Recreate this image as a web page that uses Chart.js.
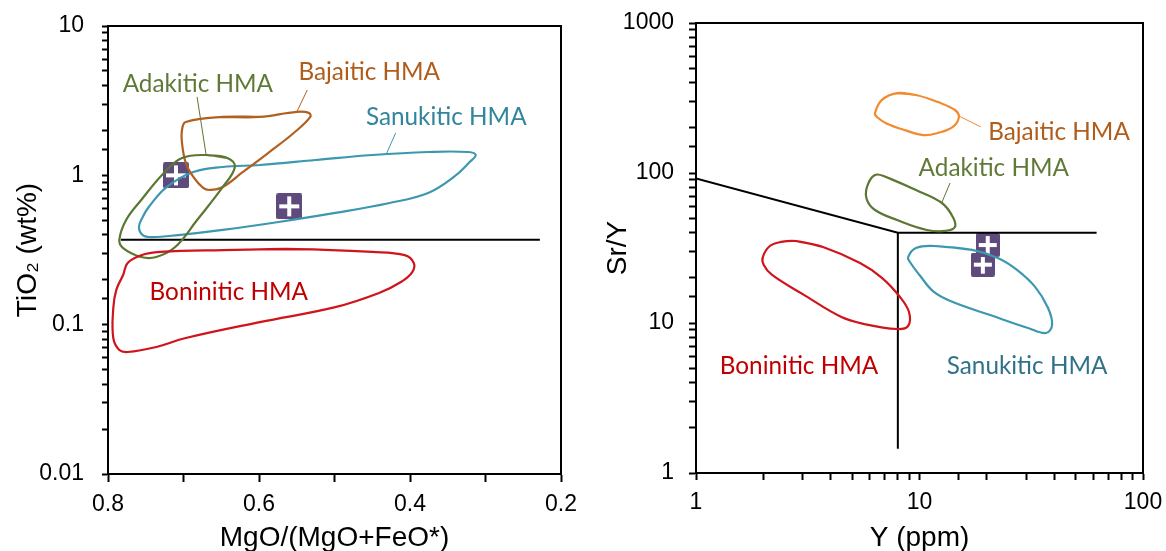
<!DOCTYPE html>
<html>
<head>
<meta charset="utf-8">
<script src="https://cdn.jsdelivr.net/npm/chart.js@4.4.1/dist/chart.umd.min.js"></script>
<style>
  html, body { margin: 0; padding: 0; background: #fff; }
  #wrap { position: relative; width: 1166px; height: 551px; overflow: hidden; }
  .panel { position: absolute; top: 0; width: 583px; height: 551px; }
</style>
</head>
<body>
<div id="wrap">
  <div class="panel" style="left:0"><canvas id="tiChart"></canvas></div>
  <div class="panel" style="left:583px"><canvas id="srChart"></canvas></div>
</div>
<script>
// ---------- Panel A: TiO2 vs MgO/(MgO+FeO*) ----------
const mgTickLabels = ['0.8', '0.6', '0.4', '0.2'];
const tiTickLabels = ['0.01', '0.1', '1', '10'];

// Boninitic HMA field
const bonMg = [0.648, 0.550, 0.450, 0.407, 0.395, 0.397, 0.412, 0.441, 0.499, 0.599, 0.697, 0.736, 0.774, 0.785, 0.793, 0.793, 0.789, 0.780, 0.774, 0.756, 0.731];
const bonTi = [0.316, 0.321, 0.307, 0.292, 0.259, 0.225, 0.193, 0.163, 0.131, 0.104, 0.0814, 0.0709, 0.0656, 0.0677, 0.0814, 0.129, 0.171, 0.215, 0.259, 0.292, 0.307];
// Adakitic HMA field
const adaMg = [0.670, 0.642, 0.632, 0.648, 0.682, 0.711, 0.736, 0.756, 0.780, 0.785, 0.776, 0.756, 0.726, 0.702];
const adaTi = [1.368, 1.306, 1.137, 0.836, 0.502, 0.331, 0.284, 0.284, 0.326, 0.369, 0.502, 0.684, 1.037, 1.306];
// Bajaitic HMA field
const bajMg = [0.648, 0.599, 0.550, 0.534, 0.532, 0.554, 0.588, 0.623, 0.648, 0.665, 0.674, 0.687, 0.697, 0.702, 0.702, 0.697];
const bajTi = [2.46, 2.46, 2.66, 2.62, 2.46, 1.92, 1.41, 1.037, 0.836, 0.798, 0.823, 0.975, 1.21, 1.65, 2.01, 2.275];
// Sanukitic HMA field
const sanMg = [0.599, 0.525, 0.450, 0.376, 0.323, 0.313, 0.321, 0.342, 0.376, 0.427, 0.499, 0.574, 0.648, 0.707, 0.742, 0.754, 0.759, 0.754, 0.746, 0.722, 0.687, 0.648];
const sanTi = [1.173, 1.267, 1.368, 1.433, 1.433, 1.368, 1.228, 0.975, 0.762, 0.653, 0.560, 0.487, 0.431, 0.398, 0.386, 0.398, 0.451, 0.526, 0.614, 0.836, 1.052, 1.137];
// Dividing line
const divMg = [0.783, 0.228];
const divTi = [0.37, 0.37];
// Leader lines (name -> field)
const adaLeadMg = [0.682, 0.670], adaLeadTi = [3.35, 1.368];
const bajLeadMg = [0.536, 0.550], bajLeadTi = [3.73, 2.66];
const sanLeadMg = [0.419, 0.432], sanLeadTi = [1.92, 1.368];
// Samples
const sampleMg = [0.71, 0.56];
const sampleTi = [1.0, 0.62];
// Field names
const fieldNamesA = ['Adakitic HMA', 'Bajaitic HMA', 'Sanukitic HMA', 'Boninitic HMA'];
const fieldNameMgA = [0.681, 0.454, 0.352, 0.640];
const fieldNameTiA = [4.09, 4.92, 2.46, 0.166];

// ---------- Panel B: Sr/Y vs Y ----------
const yTickLabels = ['1', '10', '100'];
const srTickLabels = ['1', '10', '100', '1000'];

const bajRY = [7.93, 9.64, 12.1, 14.4, 15.0, 14.1, 12.1, 10.4, 8.61, 7.08, 6.45, 6.32, 6.79];
const bajRSr = [341, 331, 297, 263, 236, 203, 185, 179, 193, 215, 236, 251, 307];
const adaRY = [7.08, 9.64, 12.6, 14.1, 14.4, 13.1, 10.8, 7.93, 6.32, 5.82, 5.82, 6.32];
const adaRSr = [94.0, 77.0, 63.1, 50.9, 43.6, 41.1, 41.7, 48.6, 56.7, 66.1, 80.7, 97.0];
const bonRY = [2.80, 3.70, 5.42, 6.79, 8.18, 8.98, 8.89, 7.93, 5.65, 4.45, 3.04, 2.19, 2.01, 1.99, 2.14, 2.40];
const bonRSr = [35.2, 32.1, 25.1, 20.0, 14.9, 11.8, 9.55, 9.12, 9.85, 11.0, 15.4, 20.9, 24.4, 27.5, 32.6, 34.7];
const sanRY = [11.6, 17.2, 22.4, 27.3, 32.9, 37.6, 39.2, 36.8, 30.6, 20.7, 14.1, 11.6, 10.0, 9.06, 8.89, 9.64];
const sanRSr = [32.6, 30.7, 27.1, 22.6, 17.4, 12.6, 9.7, 8.58, 9.26, 11.3, 13.8, 16.1, 20.9, 25.5, 27.5, 31.6];
// Dividing lines
const divR1Y = [1, 8, 62], divR1Sr = [92, 40, 40];
const divR2Y = [8, 8], divR2Sr = [40, 1.45];
// Leader lines
const bajRLeadY = [15.0, 18.8], bajRLeadSr = [240, 203];
const adaRLeadY = [12.6, 13.7], adaRLeadSr = [63.9, 85.8];
// Samples
const sampleY = [19.2, 20.2];
const sampleSr = [24.5, 33.1];
// Field names
const fieldNamesB = ['Bajaitic HMA', 'Adakitic HMA', 'Boninitic HMA', 'Sanukitic HMA'];
const fieldNameYB = [42.1, 21.5, 2.89, 30.3];
const fieldNameSrB = [188, 108, 5.17, 5.17];

// ---------- styling ----------
const C = {
  red: '#d0141c', redText: '#c00000',
  teal: '#3b98ae', tealText: '#31859c', tealTextB: '#31728a',
  olive: '#5b7733', oliveText: '#5f7a37',
  brown: '#b0601f', brownText: '#b05d1c',
  orange: '#f28a2e',
  purple: '#5f4a7d'
};
const namesColorA = [C.oliveText, C.brownText, C.tealText, C.redText];
const namesColorB = [C.brownText, C.oliveText, C.redText, C.tealTextB];

const axisFamily = '"Liberation Sans", Arial, sans-serif';
const labelFamily = 'Lato, "Open Sans", sans-serif';
const tickFont = { family: axisFamily, size: 23 };
const titleFont = { family: axisFamily, size: 28 };

function pts(xs, ys) { return xs.map((x, i) => ({ x, y: ys[i] })); }
function loop(xs, ys) { const p = pts(xs, ys); return p.concat([p[0], p[1]]); }

function marker(size) {
  const c = document.createElement('canvas');
  c.width = size; c.height = size;
  const g = c.getContext('2d');
  g.fillStyle = C.purple;
  const r = 2;
  g.beginPath();
  g.moveTo(r, 0); g.lineTo(size - r, 0); g.quadraticCurveTo(size, 0, size, r);
  g.lineTo(size, size - r); g.quadraticCurveTo(size, size, size - r, size);
  g.lineTo(r, size); g.quadraticCurveTo(0, size, 0, size - r);
  g.lineTo(0, r); g.quadraticCurveTo(0, 0, r, 0);
  g.fill();
  g.fillStyle = '#ffffff';
  const t = 4, m = 3;
  const mid = Math.round(size / 2 - t / 2);
  g.fillRect(m, mid, size - 2 * m, t);
  g.fillRect(mid, m, t, size - 2 * m);
  return c;
}

function contour(data, color) {
  return { data, showLine: true, borderColor: color, borderWidth: 2.2, pointRadius: 0, tension: 0.4, fill: false };
}
function segment(data, color, w) {
  return { data, showLine: true, borderColor: color, borderWidth: w, pointRadius: 0, tension: 0, fill: false };
}
function samples(data, size) {
  return { data, showLine: false, pointStyle: marker(size), pointRadius: size / 2, order: 10 };
}

function decadeLabel(v, labels) {
  const e = Math.log10(v);
  const hit = labels.find(t => Math.abs(Math.log10(Number(t)) - e) < 1e-6);
  return hit || '';
}

// closes the plot box on the top and right
const frame = {
  id: 'frame',
  afterDraw(chart) {
    const { ctx, chartArea: a } = chart;
    ctx.save();
    ctx.strokeStyle = '#000';
    ctx.lineWidth = 2;
    ctx.strokeRect(a.left, a.top, a.right - a.left, a.bottom - a.top);
    ctx.restore();
  }
};

// field names placed in data coordinates
const fieldNames = {
  id: 'fieldNames',
  afterDatasetsDraw(chart, args, opts) {
    const { ctx } = chart;
    const xs = chart.scales.x, ys = chart.scales.y;
    ctx.save();
    ctx.font = opts.size + 'px ' + labelFamily;
    ctx.textAlign = 'center';
    ctx.textBaseline = 'middle';
    opts.names.forEach((n, i) => {
      ctx.fillStyle = opts.colors[i];
      ctx.fillText(n, xs.getPixelForValue(opts.xs[i]), ys.getPixelForValue(opts.ys[i]));
    });
    ctx.restore();
  }
};

function axisGrid(len) {
  return { drawOnChartArea: false, drawTicks: true, tickLength: len, tickColor: '#000', tickWidth: 2 };
}
function fixX(h) {
  return s => { s.height = h; s.paddingLeft = 0; s.paddingRight = 0; };
}
function fixY(w) {
  return s => { s.width = w; s.paddingTop = 0; s.paddingBottom = 0; };
}

const common = {
  responsive: true,
  maintainAspectRatio: false,
  animation: false,
  events: [],
  plugins: { legend: { display: false }, tooltip: { enabled: false } }
};

// Panel A
new Chart(document.getElementById('tiChart'), {
  type: 'scatter',
  data: {
    datasets: [
      contour(loop(bonMg, bonTi), C.red),
      contour(loop(adaMg, adaTi), C.olive),
      contour(loop(bajMg, bajTi), C.brown),
      contour(loop(sanMg, sanTi), C.teal),
      segment(pts(divMg, divTi), '#000', 2),
      segment(pts(adaLeadMg, adaLeadTi), C.olive, 1),
      segment(pts(bajLeadMg, bajLeadTi), C.brown, 1),
      segment(pts(sanLeadMg, sanLeadTi), C.teal, 1),
      samples(pts(sampleMg, sampleTi), 26)
    ]
  },
  options: Object.assign({}, common, {
    layout: { padding: { top: 26, right: 22, left: 0, bottom: 0 } },
    scales: {
      x: {
        type: 'linear', reverse: true, min: 0.2, max: 0.8,
        ticks: {
          stepSize: 0.1, autoSkip: false, maxRotation: 0, color: '#000', font: tickFont, padding: 9,
          callback: v => { const s = Number(v).toFixed(1); return mgTickLabels.includes(s) ? s : ''; }
        },
        grid: axisGrid(8),
        border: { color: '#000', width: 2 },
        title: { display: true, text: 'MgO/(MgO+FeO*)', color: '#000', font: titleFont, padding: { top: 0, bottom: -4 } },
        afterFit: fixX(77)
      },
      y: {
        type: 'logarithmic', min: 0.01, max: 10,
        ticks: { autoSkip: false, color: '#000', font: tickFont, padding: 18, callback: v => decadeLabel(v, tiTickLabels) },
        grid: axisGrid(6),
        border: { color: '#000', width: 2 },
        title: { display: true, text: 'TiO\u2082 (wt%)', color: '#000', font: titleFont, padding: { top: 11, bottom: 0 } },
        afterFit: fixY(108)
      }
    },
    plugins: Object.assign({}, common.plugins, {
      fieldNames: { names: fieldNamesA, xs: fieldNameMgA, ys: fieldNameTiA, colors: namesColorA, size: 24.3 }
    })
  }),
  plugins: [fieldNames, frame]
});

// Panel B
new Chart(document.getElementById('srChart'), {
  type: 'scatter',
  data: {
    datasets: [
      contour(loop(bajRY, bajRSr), C.orange),
      contour(loop(adaRY, adaRSr), C.olive),
      contour(loop(bonRY, bonRSr), C.red),
      contour(loop(sanRY, sanRSr), C.teal),
      segment(pts(divR1Y, divR1Sr), '#000', 2),
      segment(pts(divR2Y, divR2Sr), '#000', 2),
      segment(pts(bajRLeadY, bajRLeadSr), C.orange, 1),
      segment(pts(adaRLeadY, adaRLeadSr), C.olive, 1),
      samples(pts(sampleY, sampleSr), 24)
    ]
  },
  options: Object.assign({}, common, {
    layout: { padding: { top: 23, right: 23, left: 0, bottom: 0 } },
    scales: {
      x: {
        type: 'logarithmic', min: 1, max: 100,
        ticks: { autoSkip: false, maxRotation: 0, color: '#000', font: tickFont, padding: 9, callback: v => decadeLabel(v, yTickLabels) },
        grid: axisGrid(7),
        border: { color: '#000', width: 2 },
        title: { display: true, text: 'Y (ppm)', color: '#000', font: titleFont, padding: { top: 0, bottom: -4 } },
        afterFit: fixX(78)
      },
      y: {
        type: 'logarithmic', min: 1, max: 1000,
        ticks: { autoSkip: false, color: '#000', font: tickFont, padding: 15, callback: v => decadeLabel(v, srTickLabels) },
        grid: axisGrid(7),
        border: { color: '#000', width: 2 },
        title: { display: true, text: 'Sr/Y', color: '#000', font: titleFont, padding: { top: 18, bottom: 0 } },
        afterFit: fixY(113)
      }
    },
    plugins: Object.assign({}, common.plugins, {
      fieldNames: { names: fieldNamesB, xs: fieldNameYB, ys: fieldNameSrB, colors: namesColorB, size: 24.3 }
    })
  }),
  plugins: [fieldNames, frame]
});
</script>
</body>
</html>
